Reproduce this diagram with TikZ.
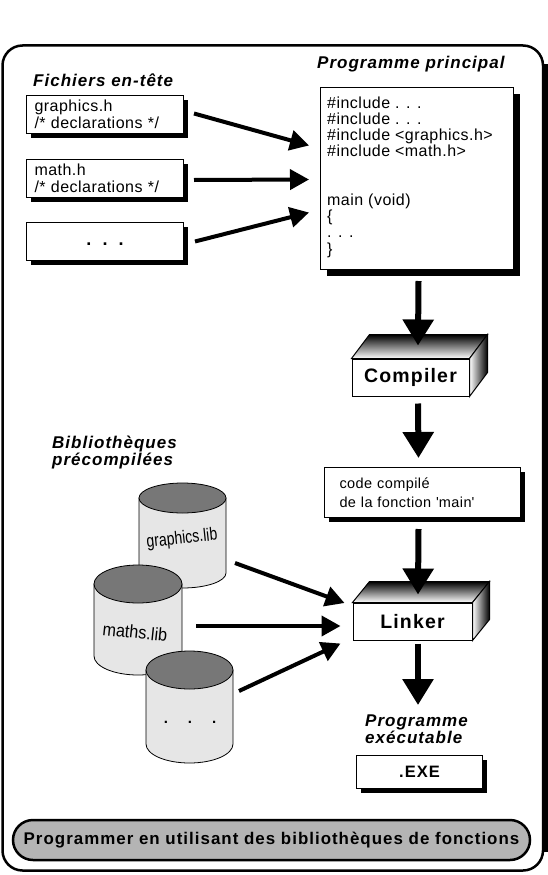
\documentclass[tikz,border=0pt]{standalone}
\usepackage{fontspec}
\setmainfont{Liberation Sans}
\newfontfamily\lblfont[LetterSpace=6]{Liberation Sans}
\newfontfamily\txtfont[LetterSpace=3]{Liberation Sans}
\usetikzlibrary{arrows.meta,shadows,calc}
\definecolor{cylbody}{HTML}{E6E6E6}
\definecolor{cyltop}{HTML}{777777}
\definecolor{bannergray}{HTML}{B4B4B4}
\begin{document}
\begin{tikzpicture}[x=1pt,y=-1pt,
 lbl/.style={font=\lblfont\bfseries\itshape\fontsize{17}{17}\selectfont, inner sep=0pt, align=left},
 codebox/.style={draw, line width=1pt, fill=white, inner sep=0pt},
 sh/.style={drop shadow={shadow xshift=#1, shadow yshift=-#1, fill=black, opacity=1}},
 hdrtxt/.style={font=\txtfont\fontsize{16}{17}\selectfont, align=left},
 codetxt/.style={font=\txtfont\fontsize{16}{16.2}\selectfont, inner sep=0pt, align=left},
 boxthreed/.style={draw, line width=1pt, fill=white, minimum height=37pt, inner sep=0pt, font=\lblfont\bfseries\fontsize{19.5}{19.5}\selectfont},
 harrow/.style={line width=4pt, -{Triangle[length=19pt,width=20pt]}},
 varrow/.style={line width=6pt, -{Triangle[length=26pt,width=30pt]}},
 cyl/.style={draw, line width=0.8pt, fill=cylbody},
 cyltopst/.style={draw, line width=0.8pt, fill=cyltop},
 libtxt/.style={font=\fontsize{18}{18}\selectfont, inner sep=0pt}
]
\useasboundingbox (0,0) rectangle (548,875);
% outer frame
\draw[line width=2.5pt, rounded corners=20pt] (2.5,45.5) rectangle (543,870.5);
\fill (541.5,64) rectangle (547.5,852);

% labels
\node[lbl, anchor=base west] (hlab) at (33,86.5) {Fichiers en-tête};
\node[lbl, anchor=base west] (plab) at (317,69) {Programme principal};
\node[lbl, anchor=north west] (blab) at (52,436) {Bibliothèques\\précompilées};
\node[lbl, anchor=north west] (exelab) at (365,715) {Programme\\exécutable};

% header boxes
\node[codebox, sh=4pt, hdrtxt, minimum width=157pt, minimum height=38pt, text width=141pt, anchor=north west] (h1) at (26,95) {graphics.h\\/* declarations */};
\node[codebox, sh=4pt, hdrtxt, minimum width=157pt, minimum height=38pt, text width=141pt, anchor=north west] (h2) at (26,159) {math.h\\/* declarations */};
\node[codebox, sh=4pt, minimum width=157pt, minimum height=38pt, anchor=north west, font=\bfseries\fontsize{18}{18}\selectfont] (h3) at (26,222) {\raisebox{-8pt}{.\hspace{11pt}.\hspace{11pt}.}};

% main program
\node[codebox, sh=6pt, minimum width=193pt, minimum height=182pt, anchor=north west] (prog) at (320,87) {};
\node[codetxt, anchor=north west] (progtxt) at (327,96.5) {\#include . . .\\\#include . . .\\\#include <graphics.h>\\\#include <math.h>\\[32.4pt]main (void)\\\{\\. . .\\\}};

% compiler
\node[boxthreed, minimum width=117pt] (comp) at (410.5,377.5) {Compiler};
\shadedraw[line width=1pt, top color=black, middle color=black!50, bottom color=white] (comp.north west) -- (comp.north east) -- ($(comp.north east)+(18,-24)$) -- ($(comp.north west)+(18,-24)$) -- cycle;
\shadedraw[line width=1pt, left color=white, right color=black] (comp.north east) -- ($(comp.north east)+(18,-24)$) -- ($(comp.south east)+(18,-24)$) -- (comp.south east) -- cycle;

% compiled code
\node[codebox, sh=4pt, minimum width=196pt, minimum height=50pt, text width=166pt, align=left, anchor=north west, font=\txtfont\fontsize{14.5}{18.5}\selectfont] (code) at (324,467) {code compilé\\de la fonction \textquotesingle main\textquotesingle};

% linker
\node[boxthreed, minimum width=119pt] (link) at (412.5,621.5) {Linker};
\shadedraw[line width=1pt, top color=black, middle color=black!50, bottom color=white] (link.north west) -- (link.north east) -- ($(link.north east)+(17,-21)$) -- ($(link.north west)+(17,-21)$) -- cycle;
\shadedraw[line width=1pt, left color=white, right color=black] (link.north east) -- ($(link.north east)+(17,-21)$) -- ($(link.south east)+(17,-21)$) -- (link.south east) -- cycle;

% exe
\node[codebox, sh=4pt, minimum width=126pt, minimum height=33pt, anchor=north west, font=\lblfont\bfseries\fontsize{16.5}{16.5}\selectfont] (exe) at (356,755) {.EXE};

% cylinders
\path[cyl] (139,498) -- (139,573) arc[start angle=180, end angle=360, x radius=43.5pt, y radius=15pt] -- (226,498) -- cycle;
\path[cyltopst] (182.5,498) ellipse [x radius=43.5pt, y radius=15pt];
\node[libtxt, rotate=6] (lib1) at (182,539) {\scalebox{0.78}[1]{graphics.lib}};

\path[cyl] (94,584) -- (94,656) arc[start angle=180, end angle=360, x radius=44pt, y radius=19pt] -- (182,584) -- cycle;
\path[cyltopst] (138,584) ellipse [x radius=44pt, y radius=19pt];
\node[libtxt, rotate=-6] (lib2) at (135,632) {\scalebox{0.9}[1]{maths.lib}};

\path[cyl] (146,670) -- (146,744) arc[start angle=180, end angle=360, x radius=43.5pt, y radius=19pt] -- (233,670) -- cycle;
\path[cyltopst] (189.5,670) ellipse [x radius=43.5pt, y radius=19pt];
\node[inner sep=0pt, font=\bfseries\fontsize{15}{15}\selectfont] (lib3) at (190,722) {.\hspace{20pt}.\hspace{20pt}.};

% banner
\node[draw, line width=2.5pt, fill=bannergray, rounded corners=20pt, minimum width=517pt, minimum height=40pt, inner sep=0pt, font=\lblfont\bfseries\fontsize{16.9}{16.9}\selectfont] (banner) at (271.5,840) {Programmer en utilisant des bibliothèques de fonctions};

% arrows header -> program
\draw[harrow] ($(h1.east)+(10,-1)$) -- ($(prog.west)+(-11,-33)$);
\draw[harrow] ($(h2.east)+(10,1.5)$) -- ($(prog.west)+(-11,1)$);
\draw[harrow] ($(h3.east)+(11,0)$) -- ($(prog.west)+(-11,34)$);

% arrows libs -> linker
\draw[harrow] ($(lib1)+(53,24)$) -- ($(link.west)+(-8,-18.5)$);
\draw[harrow] ($(lib2)+(61,-6)$) -- ($(link.west)+(-12,4.5)$);
\draw[harrow] ($(lib3)+(49,-31)$) -- ($(link.west)+(-12,22)$);

% vertical flow
\draw[varrow] ($(prog.south)+(1.5,11)$) -- ($(comp.north)+(7.5,-13)$);
\draw[varrow] ($(comp.south)+(7.5,7)$) -- ($(code.north)+(-4,-9)$);
\draw[varrow] ($(code.south)+(-4,11)$) -- ($(link.north)+(5.5,-8)$);
\draw[varrow] ($(link.south)+(5.5,3)$) -- ($(exelab.north west)+(53,-10)$);
\end{tikzpicture}
\end{document}
